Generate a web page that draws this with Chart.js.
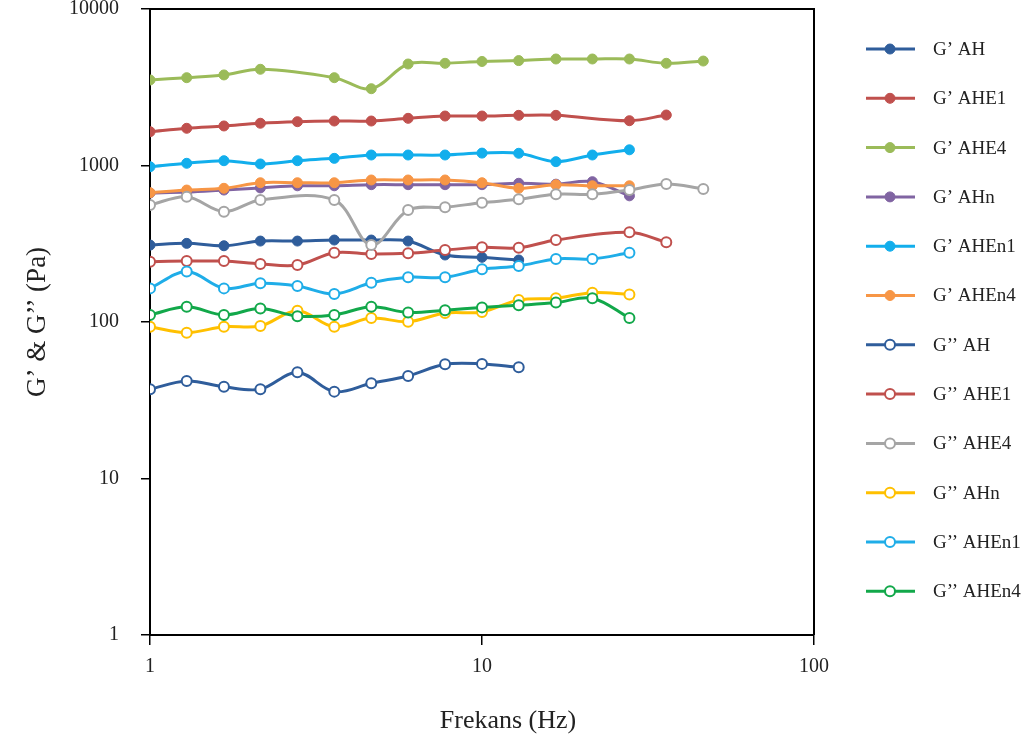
<!DOCTYPE html>
<html><head><meta charset="utf-8">
<script src="https://cdn.jsdelivr.net/npm/chart.js@4.4.0/dist/chart.umd.min.js"></script>
<style>html,body{margin:0;padding:0;background:#fff;}#wrap{width:1029px;height:747px;}</style>
</head><body><div id="wrap"><canvas id="c" width="1029" height="747"></canvas></div>
<script>
// ---- data ----
const FREQ = [1, 1.29, 1.67, 2.15, 2.78, 3.59, 4.64, 5.99, 7.74, 10, 12.9, 16.7, 21.5, 27.8, 35.9, 46.4];
const X_TICKS = [1, 10, 100];
const Y_TICKS = [1, 10, 100, 1000, 10000];
const X_TITLE = "Frekans (Hz)";
const Y_TITLE = "G\u2019 & G\u2019\u2019 (Pa)";

const NAMES = ["G\u2019 AH", "G\u2019 AHE1", "G\u2019 AHE4", "G\u2019 AHn", "G\u2019 AHEn1", "G\u2019 AHEn4",
               "G\u2019\u2019 AH", "G\u2019\u2019 AHE1", "G\u2019\u2019 AHE4", "G\u2019\u2019 AHn", "G\u2019\u2019 AHEn1", "G\u2019\u2019 AHEn4"];

const gp_AH    = [310, 318, 307, 329, 329, 334, 334, 329, 268, 259, 249, null, null, null, null, null];
const gp_AHE1  = [1644, 1729, 1789, 1862, 1905, 1924, 1924, 2002, 2071, 2071, 2092, 2092, null, 1933, 2102, null];
const gp_AHE4  = [3520, 3640, 3790, 4120, null, 3640, 3095, 4452, 4498, 4620, 4680, 4792, 4792, 4792, 4498, 4650];
const gp_AHn   = [667, 676, 697, 719, 742, 742, 754, 754, 754, 754, 770, 760, 788, 640, null, null];
const gp_AHEn1 = [982, 1033, 1073, 1023, 1073, 1111, 1167, 1167, 1167, 1200, 1197, 1058, 1167, 1260, null, null];
const gp_AHEn4 = [670, 697, 715, 776, 776, 776, 808, 808, 808, 776, 715, 753, 742, 742, null, null];
const gpp_AH    = [37.2, 42, 38.6, 37.2, 47.7, 35.9, 40.6, 45.2, 53.7, 54, 51.3, null, null, null, null, null];
const gpp_AHE1  = [243, 245, 245, 235, 231, 277, 272, 275, 288, 300, 298, 334, null, 374, 323, null];
const gpp_AHE4  = [559, 631, 507, 602, null, 602, 310, 519, 541, 578, 608, 655, 655, 697, 762, 708];
const gpp_AHn   = [93.3, 85.5, 93.3, 94.3, 118, 93.3, 106, 100.4, 114, 116, 138, 142, 154, 150, null, null];
const gpp_AHEn1 = [164, 210, 164, 177, 170, 151, 178, 193, 193, 217, 228, 253, 253, 277, null, null];
const gpp_AHEn4 = [111, 125, 111, 122, 109, 111, 125, 115, 119, 124, 128, 133, 142, 106, null, null];

const VALUES = [gp_AH, gp_AHE1, gp_AHE4, gp_AHn, gp_AHEn1, gp_AHEn4,
                gpp_AH, gpp_AHE1, gpp_AHE4, gpp_AHn, gpp_AHEn1, gpp_AHEn4];
const COLORS = ["#2F5D9B", "#C0504D", "#9BBB59", "#8064A2", "#12AEEC", "#F79646",
                "#2F5D9B", "#C0504D", "#A5A5A5", "#FFC000", "#1FADE8", "#12A84A"];
const FILLED = [true, true, true, true, true, true, false, false, false, false, false, false];

// ---- chart ----
const FONT = "'Liberation Serif', 'Times New Roman', serif";

const datasets = VALUES.map((vals, i) => ({
  label: NAMES[i],
  data: FREQ.map((f, k) => ({ x: f, y: vals[k] })),
  borderColor: COLORS[i],
  backgroundColor: COLORS[i],
  borderWidth: 3,
  tension: 0.35,
  spanGaps: true,
  pointRadius: 5,
  pointBorderWidth: FILLED[i] ? 1 : 2,
  pointBackgroundColor: FILLED[i] ? COLORS[i] : "#ffffff",
  pointBorderColor: COLORS[i],
  order: VALUES.length - i,
  fill: false
}));

const extras = {
  id: "extras",
  afterDraw(chart) {
    const ctx = chart.ctx, a = chart.chartArea;
    ctx.save();
    // box top / right
    ctx.strokeStyle = "#000"; ctx.lineWidth = 2;
    ctx.beginPath();
    ctx.moveTo(a.left, a.top); ctx.lineTo(a.right, a.top); ctx.lineTo(a.right, a.bottom);
    ctx.stroke();
    // titles
    ctx.fillStyle = "#222";
    ctx.font = "26px " + FONT;
    ctx.textAlign = "center"; ctx.textBaseline = "middle";
    ctx.fillText(X_TITLE, 508, 721);
    ctx.translate(38, 322); ctx.rotate(-Math.PI / 2);
    ctx.font = "27px " + FONT;
    ctx.fillText(Y_TITLE, 0, 0);
    ctx.restore();
    // legend
    ctx.save();
    chart.data.datasets.forEach((ds, i) => {
      const y = 49 + i * 49.3;
      ctx.strokeStyle = ds.borderColor; ctx.lineWidth = 3;
      ctx.beginPath(); ctx.moveTo(866, y); ctx.lineTo(915, y); ctx.stroke();
      ctx.beginPath(); ctx.arc(890, y, 5, 0, Math.PI * 2);
      ctx.fillStyle = ds.pointBackgroundColor; ctx.fill();
      ctx.lineWidth = FILLED[i] ? 1 : 2; ctx.strokeStyle = ds.pointBorderColor; ctx.stroke();
      ctx.fillStyle = "#222"; ctx.font = "19px " + FONT;
      ctx.textAlign = "left"; ctx.textBaseline = "middle";
      ctx.fillText(ds.label, 933, y + 1);
    });
    ctx.restore();
  }
};

const tickFont = { family: FONT, size: 20 };

new Chart(document.getElementById("c"), {
  type: "line",
  data: { datasets },
  options: {
    responsive: false,
    devicePixelRatio: 1,
    animation: false,
    layout: { padding: { left: 0, right: 215, top: 9, bottom: 0 } },
    plugins: { legend: { display: false }, tooltip: { enabled: false } },
    scales: {
      x: {
        type: "logarithmic", min: 1, max: 100,
        afterBuildTicks: s => { s.ticks = X_TICKS.map(v => ({ value: v })); },
        afterFit: s => { s.height = 112; s.paddingLeft = 0; s.paddingRight = 0; },
        ticks: { callback: v => String(v), font: tickFont, color: "#222", padding: 10, maxRotation: 0, autoSkip: false },
        grid: { drawOnChartArea: false, drawTicks: true, tickLength: 10, color: "#000", lineWidth: 1.5 },
        border: { display: true, color: "#000", width: 2 }
      },
      y: {
        type: "logarithmic", min: 1, max: 10000,
        afterBuildTicks: s => { s.ticks = Y_TICKS.map(v => ({ value: v })); },
        afterFit: s => { s.width = 150; s.paddingTop = 0; s.paddingBottom = 0; },
        ticks: { callback: v => String(v), font: tickFont, color: "#222", padding: 22, autoSkip: false },
        grid: { drawOnChartArea: false, drawTicks: true, tickLength: 9, color: "#000", lineWidth: 1.5 },
        border: { display: true, color: "#000", width: 2 }
      }
    }
  },
  plugins: [extras]
});
</script>
</body></html>
